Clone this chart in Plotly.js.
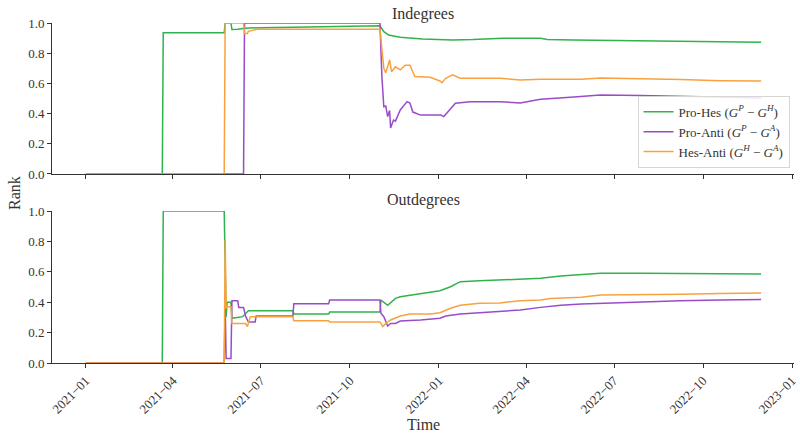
<!DOCTYPE html>
<html>
<head>
<meta charset="utf-8">
<script src="https://cdn.plot.ly/plotly-3.0.1.min.js"></script>
<style>
  html, body { margin: 0; padding: 0; background: #fff; }
  #chart { width: 800px; height: 439px; }
</style>
</head>
<body>
<div id="chart"></div>
<script>
// ---- Indegrees: Pro-Hes ----
const inProHesDates = ['2021-01-01','2021-03-21','2021-03-22','2021-05-24','2021-05-25','2021-05-31','2021-06-01','2021-06-07','2021-06-14','2021-06-30','2021-08-03','2021-09-09','2021-10-28','2021-11-01','2021-11-05','2021-11-10','2021-11-15','2021-11-22','2021-12-15','2022-01-15','2022-02-05','2022-03-08','2022-04-16','2022-04-23','2022-05-20','2022-06-27','2022-07-29','2022-09-08','2022-10-19','2022-11-30'];
const inProHesVals  = [0,0,0.935,0.935,1.0,1.0,0.957,0.958,0.965,0.969,0.972,0.976,0.982,0.982,0.943,0.92,0.914,0.905,0.894,0.887,0.89,0.899,0.899,0.89,0.887,0.885,0.881,0.878,0.875,0.873];

// ---- Indegrees: Pro-Anti ----
const inProAntiDates = ['2021-01-01','2021-06-13','2021-06-14','2021-11-01','2021-11-03','2021-11-05','2021-11-07','2021-11-09','2021-11-11','2021-11-12','2021-11-15','2021-11-17','2021-11-22','2021-11-29','2021-12-02','2021-12-05','2021-12-13','2022-01-03','2022-01-06','2022-01-10','2022-01-18','2022-02-02','2022-03-05','2022-03-26','2022-04-16','2022-05-17','2022-06-07','2022-06-17','2022-07-29','2022-09-08','2022-10-19','2022-11-30'];
const inProAntiVals  = [0,0,1.0,1.0,0.645,0.445,0.45,0.38,0.42,0.304,0.357,0.35,0.424,0.479,0.47,0.41,0.39,0.39,0.38,0.41,0.468,0.479,0.479,0.47,0.495,0.508,0.519,0.523,0.52,0.515,0.508,0.503];

// ---- Indegrees: Hes-Anti ----
const inHesAntiDates = ['2021-01-01','2021-05-24','2021-05-25','2021-06-13','2021-06-14','2021-06-17','2021-06-18','2021-06-22','2021-06-27','2021-11-01','2021-11-02','2021-11-05','2021-11-07','2021-11-11','2021-11-13','2021-11-17','2021-11-22','2021-11-27','2021-12-02','2021-12-07','2021-12-23','2022-01-02','2022-01-04','2022-01-08','2022-01-15','2022-01-23','2022-03-05','2022-03-26','2022-04-16','2022-05-28','2022-06-17','2022-07-29','2022-09-08','2022-10-19','2022-11-30'];
const inHesAntiVals  = [0,0,1.0,1.0,0.93,0.93,0.945,0.952,0.958,0.958,0.887,0.70,0.67,0.755,0.677,0.71,0.69,0.72,0.72,0.645,0.64,0.616,0.605,0.634,0.656,0.634,0.634,0.623,0.627,0.627,0.636,0.632,0.625,0.618,0.615];

// ---- Outdegrees: Pro-Hes ----
const outProHesDates = ['2021-01-01','2021-03-21','2021-03-22','2021-05-24','2021-05-26','2021-05-27','2021-05-31','2021-06-01','2021-06-12','2021-06-18','2021-08-03','2021-08-04','2021-09-09','2021-09-10','2021-11-01','2021-11-02','2021-11-09','2021-11-17','2021-11-22','2021-12-13','2022-01-02','2022-01-13','2022-01-23','2022-02-12','2022-03-26','2022-04-16','2022-05-07','2022-05-28','2022-06-17','2022-07-29','2022-09-08','2022-10-19','2022-11-30'];
const outProHesVals  = [0,0,1.0,1.0,0.305,0.40,0.40,0.294,0.305,0.344,0.344,0.322,0.322,0.335,0.335,0.414,0.38,0.425,0.436,0.458,0.476,0.502,0.535,0.541,0.55,0.557,0.572,0.579,0.59,0.59,0.59,0.588,0.585];

// ---- Outdegrees: Pro-Anti ----
const outProAntiDates = ['2021-01-01','2021-05-24','2021-05-25','2021-05-26','2021-05-31','2021-06-01','2021-06-07','2021-06-08','2021-06-13','2021-06-15','2021-06-18','2021-06-25','2021-06-26','2021-08-03','2021-08-04','2021-09-09','2021-09-10','2021-11-01','2021-11-02','2021-11-05','2021-11-09','2021-11-12','2021-11-17','2021-11-22','2021-12-13','2022-01-02','2022-01-08','2022-01-23','2022-02-12','2022-03-05','2022-03-26','2022-04-16','2022-05-07','2022-05-28','2022-06-17','2022-07-29','2022-09-08','2022-10-19','2022-11-30'];
const outProAntiVals  = [0,0,0.39,0.03,0.03,0.41,0.41,0.366,0.366,0.31,0.27,0.27,0.309,0.309,0.39,0.39,0.414,0.414,0.327,0.305,0.243,0.26,0.26,0.276,0.283,0.294,0.309,0.322,0.331,0.338,0.349,0.366,0.38,0.388,0.393,0.403,0.41,0.415,0.418];

// ---- Outdegrees: Hes-Anti ----
const outHesAntiDates = ['2021-01-01','2021-05-24','2021-05-25','2021-05-26','2021-05-27','2021-05-31','2021-06-01','2021-06-15','2021-06-17','2021-06-20','2021-08-03','2021-08-04','2021-09-09','2021-09-10','2021-11-01','2021-11-04','2021-11-07','2021-11-12','2021-11-22','2021-12-02','2021-12-23','2022-01-02','2022-01-13','2022-01-23','2022-02-12','2022-03-05','2022-03-26','2022-04-16','2022-04-26','2022-05-28','2022-06-17','2022-07-29','2022-09-08','2022-10-19','2022-11-30'];
const outHesAntiVals  = [0,0,0.81,0.36,0.37,0.37,0.26,0.26,0.24,0.305,0.305,0.278,0.278,0.27,0.27,0.24,0.26,0.283,0.309,0.322,0.322,0.331,0.36,0.38,0.393,0.395,0.41,0.414,0.425,0.432,0.447,0.447,0.452,0.458,0.46];

// Series names and colours
const seriesNames = [
  'Pro-Hes (<i>G</i><sup><i>P</i></sup> − <i>G</i><sup><i>H</i></sup>)',
  'Pro-Anti (<i>G</i><sup><i>P</i></sup> − <i>G</i><sup><i>A</i></sup>)',
  'Hes-Anti (<i>G</i><sup><i>H</i></sup> − <i>G</i><sup><i>A</i></sup>)'
];
const seriesColors = ['#2fb34c', '#9a4cc8', '#f7a23f'];
const yTickVals = [0, 0.2, 0.4, 0.6, 0.8, 1.0];
const yTickText = ['0.0', '0.2', '0.4', '0.6', '0.8', '1.0'];

const FONT = 'Liberation Serif, DejaVu Serif, serif';
const INK = '#333';

function line(x, y, i, xa, ya, legend) {
  return {
    x: x, y: y, type: 'scatter', mode: 'lines',
    name: seriesNames[i], showlegend: legend,
    line: { color: seriesColors[i], width: 1.5 },
    xaxis: xa, yaxis: ya, hoverinfo: 'skip'
  };
}

const data = [
  line(inProHesDates, inProHesVals, 0, 'x', 'y', true),
  line(inProAntiDates, inProAntiVals, 1, 'x', 'y', true),
  line(inHesAntiDates, inHesAntiVals, 2, 'x', 'y', true),
  line(outProHesDates, outProHesVals, 0, 'x2', 'y2', false),
  line(outProAntiDates, outProAntiVals, 1, 'x2', 'y2', false),
  line(outHesAntiDates, outHesAntiVals, 2, 'x2', 'y2', false)
];

const xBase = {
  type: 'date',
  range: ['2020-11-27', '2023-01-03'],
  tick0: '2021-01-01', dtick: 'M3',
  tickformat: '%Y\u2212%m',
  showgrid: false, zeroline: false,
  showline: true, linecolor: INK, linewidth: 1,
  ticks: 'outside', ticklen: 4, tickcolor: INK, tickwidth: 1,
  tickfont: { family: FONT, size: 13, color: INK }
};
const yBase = {
  range: [0, 1], tickvals: yTickVals, ticktext: yTickText,
  showgrid: false, zeroline: false,
  showline: true, linecolor: INK, linewidth: 1,
  ticks: 'outside', ticklen: 4, tickcolor: INK, tickwidth: 1,
  tickfont: { family: FONT, size: 13, color: INK }
};

const layout = {
  width: 800, height: 439,
  margin: { l: 52, r: 6, t: 23, b: 76 },
  paper_bgcolor: '#fff', plot_bgcolor: '#fff',
  font: { family: FONT, color: INK },
  showlegend: true,
  xaxis: Object.assign({}, xBase, { anchor: 'y', domain: [0, 1], showticklabels: false }),
  yaxis: Object.assign({}, yBase, { anchor: 'x', domain: [0.556, 1] }),
  xaxis2: Object.assign({}, xBase, { anchor: 'y2', domain: [0, 1], tickangle: -45, matches: 'x' }),
  yaxis2: Object.assign({}, yBase, { anchor: 'x2', domain: [0, 0.447] }),
  legend: {
    x: 0.994, y: 0.574, xanchor: 'right', yanchor: 'bottom',
    bgcolor: 'rgba(255,255,255,0.85)', bordercolor: '#d6d6d6', borderwidth: 1,
    font: { family: FONT, size: 13, color: INK },
    tracegroupgap: 0, itemwidth: 30
  },
  annotations: [
    { text: 'Indegrees', xref: 'paper', yref: 'paper', x: 0.5, y: 1, xanchor: 'center', yanchor: 'bottom',
      yshift: -2, showarrow: false, font: { family: FONT, size: 16, color: INK } },
    { text: 'Outdegrees', xref: 'paper', yref: 'paper', x: 0.5, y: 0.447, xanchor: 'center', yanchor: 'bottom',
      yshift: 0, showarrow: false, font: { family: FONT, size: 16, color: INK } },
    { text: 'Rank', xref: 'paper', yref: 'paper', x: 0, y: 0.5, xanchor: 'center', yanchor: 'middle',
      xshift: -38, textangle: -90, showarrow: false, font: { family: FONT, size: 16, color: INK } },
    { text: 'Time', xref: 'paper', yref: 'paper', x: 0.5, y: 0, xanchor: 'center', yanchor: 'middle',
      yshift: -61, showarrow: false, font: { family: FONT, size: 16, color: INK } }
  ]
};

Plotly.newPlot('chart', data, layout, { displayModeBar: false, staticPlot: true });
</script>
</body>
</html>
